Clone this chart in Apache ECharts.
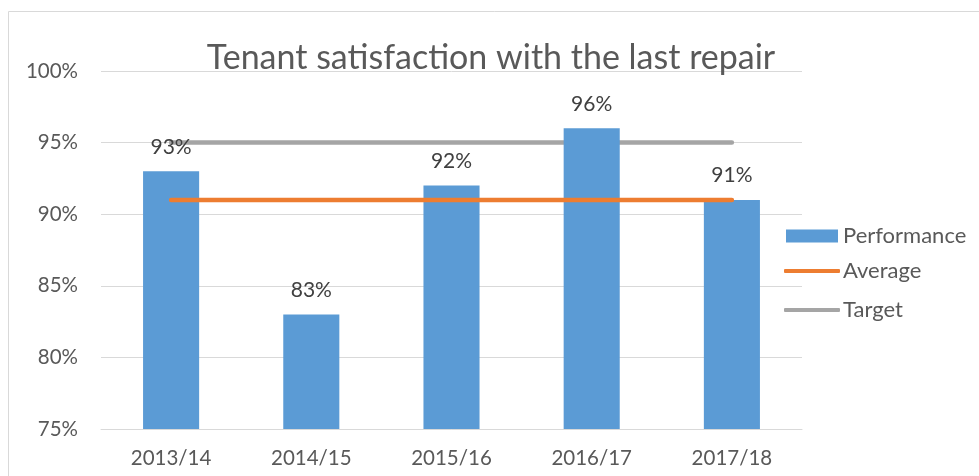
<!DOCTYPE html>
<html>
<head>
<meta charset="utf-8">
<script src="https://cdn.jsdelivr.net/npm/echarts@6/dist/echarts.min.js"></script>
<style>
  html, body { margin: 0; padding: 0; background: #fff; }
  #chart { width: 979px; height: 476px; }
</style>
</head>
<body>
<div id="chart"></div>
<script>
// Chart data
const years = ['2013/14', '2014/15', '2015/16', '2016/17', '2017/18'];
const performance = [93, 83, 92, 96, 91];
const average = [91, 91, 91, 91, 91];
const target = [95, 95, 95, 95, 95];
const yTicks = [75, 80, 85, 90, 95, 100];

const textColor = '#595959';
const fontFamily = 'Lato, "Liberation Sans", sans-serif';

const chart = echarts.init(document.getElementById('chart'));

chart.setOption({
    animation: false,
    textStyle: { fontFamily: fontFamily },
    title: {
        text: 'Tenant satisfaction with the last repair',
        left: 491, top: 41, textAlign: 'center', padding: 0,
        textStyle: { fontSize: 34, fontWeight: 'normal', color: textColor, fontFamily: fontFamily }
    },
    graphic: [{
        type: 'rect', left: 6, top: 9,
        shape: { width: 985, height: 490 },
        style: { fill: 'none', stroke: '#d9d9d9', lineWidth: 1 },
        silent: true
    }],
    grid: { left: 101, right: 177, top: 71, bottom: 47 },
    legend: [
        { data: ['Performance'], left: 786, top: 225, padding: 0, itemWidth: 52, itemHeight: 13,
          icon: 'rect', textStyle: { fontSize: 22, color: textColor } },
        { data: ['Average'], left: 784, top: 260, padding: 0, itemWidth: 56, itemHeight: 4,
          icon: 'roundRect', textStyle: { fontSize: 22, color: textColor, padding: [0, 0, 0, -2] } },
        { data: ['Target'], left: 784, top: 299, padding: 0, itemWidth: 56, itemHeight: 4,
          icon: 'roundRect', textStyle: { fontSize: 22, color: textColor, padding: [0, 0, 0, -2] } }
    ],
    xAxis: {
        type: 'category',
        data: years,
        axisLine: { lineStyle: { color: '#d9d9d9' } },
        axisTick: { show: false },
        axisLabel: { fontSize: 20.5, color: textColor, margin: 19 }
    },
    yAxis: {
        type: 'value',
        min: yTicks[0], max: yTicks[yTicks.length - 1], interval: 5,
        axisLine: { show: false },
        axisTick: { show: false },
        splitLine: { lineStyle: { color: '#d9d9d9' } },
        axisLabel: { fontSize: 20.5, color: textColor, margin: 23, formatter: '{value}%' }
    },
    series: [
        {
            name: 'Performance', type: 'bar', data: performance, barWidth: '40%',
            itemStyle: { color: '#5b9bd5' },
            label: { show: true, position: 'top', distance: 14, fontSize: 21, color: '#404040', formatter: '{c}%' },
            z: 2
        },
        {
            name: 'Average', type: 'line', data: average, symbol: 'none',
            lineStyle: { color: '#ed7d31', width: 4.5, cap: 'round' },
            itemStyle: { color: '#ed7d31' }, z: 3
        },
        {
            name: 'Target', type: 'line', data: target, symbol: 'none',
            lineStyle: { color: '#a5a5a5', width: 4.5, cap: 'round' },
            itemStyle: { color: '#a5a5a5' }, z: 1
        }
    ]
});
</script>
</body>
</html>
